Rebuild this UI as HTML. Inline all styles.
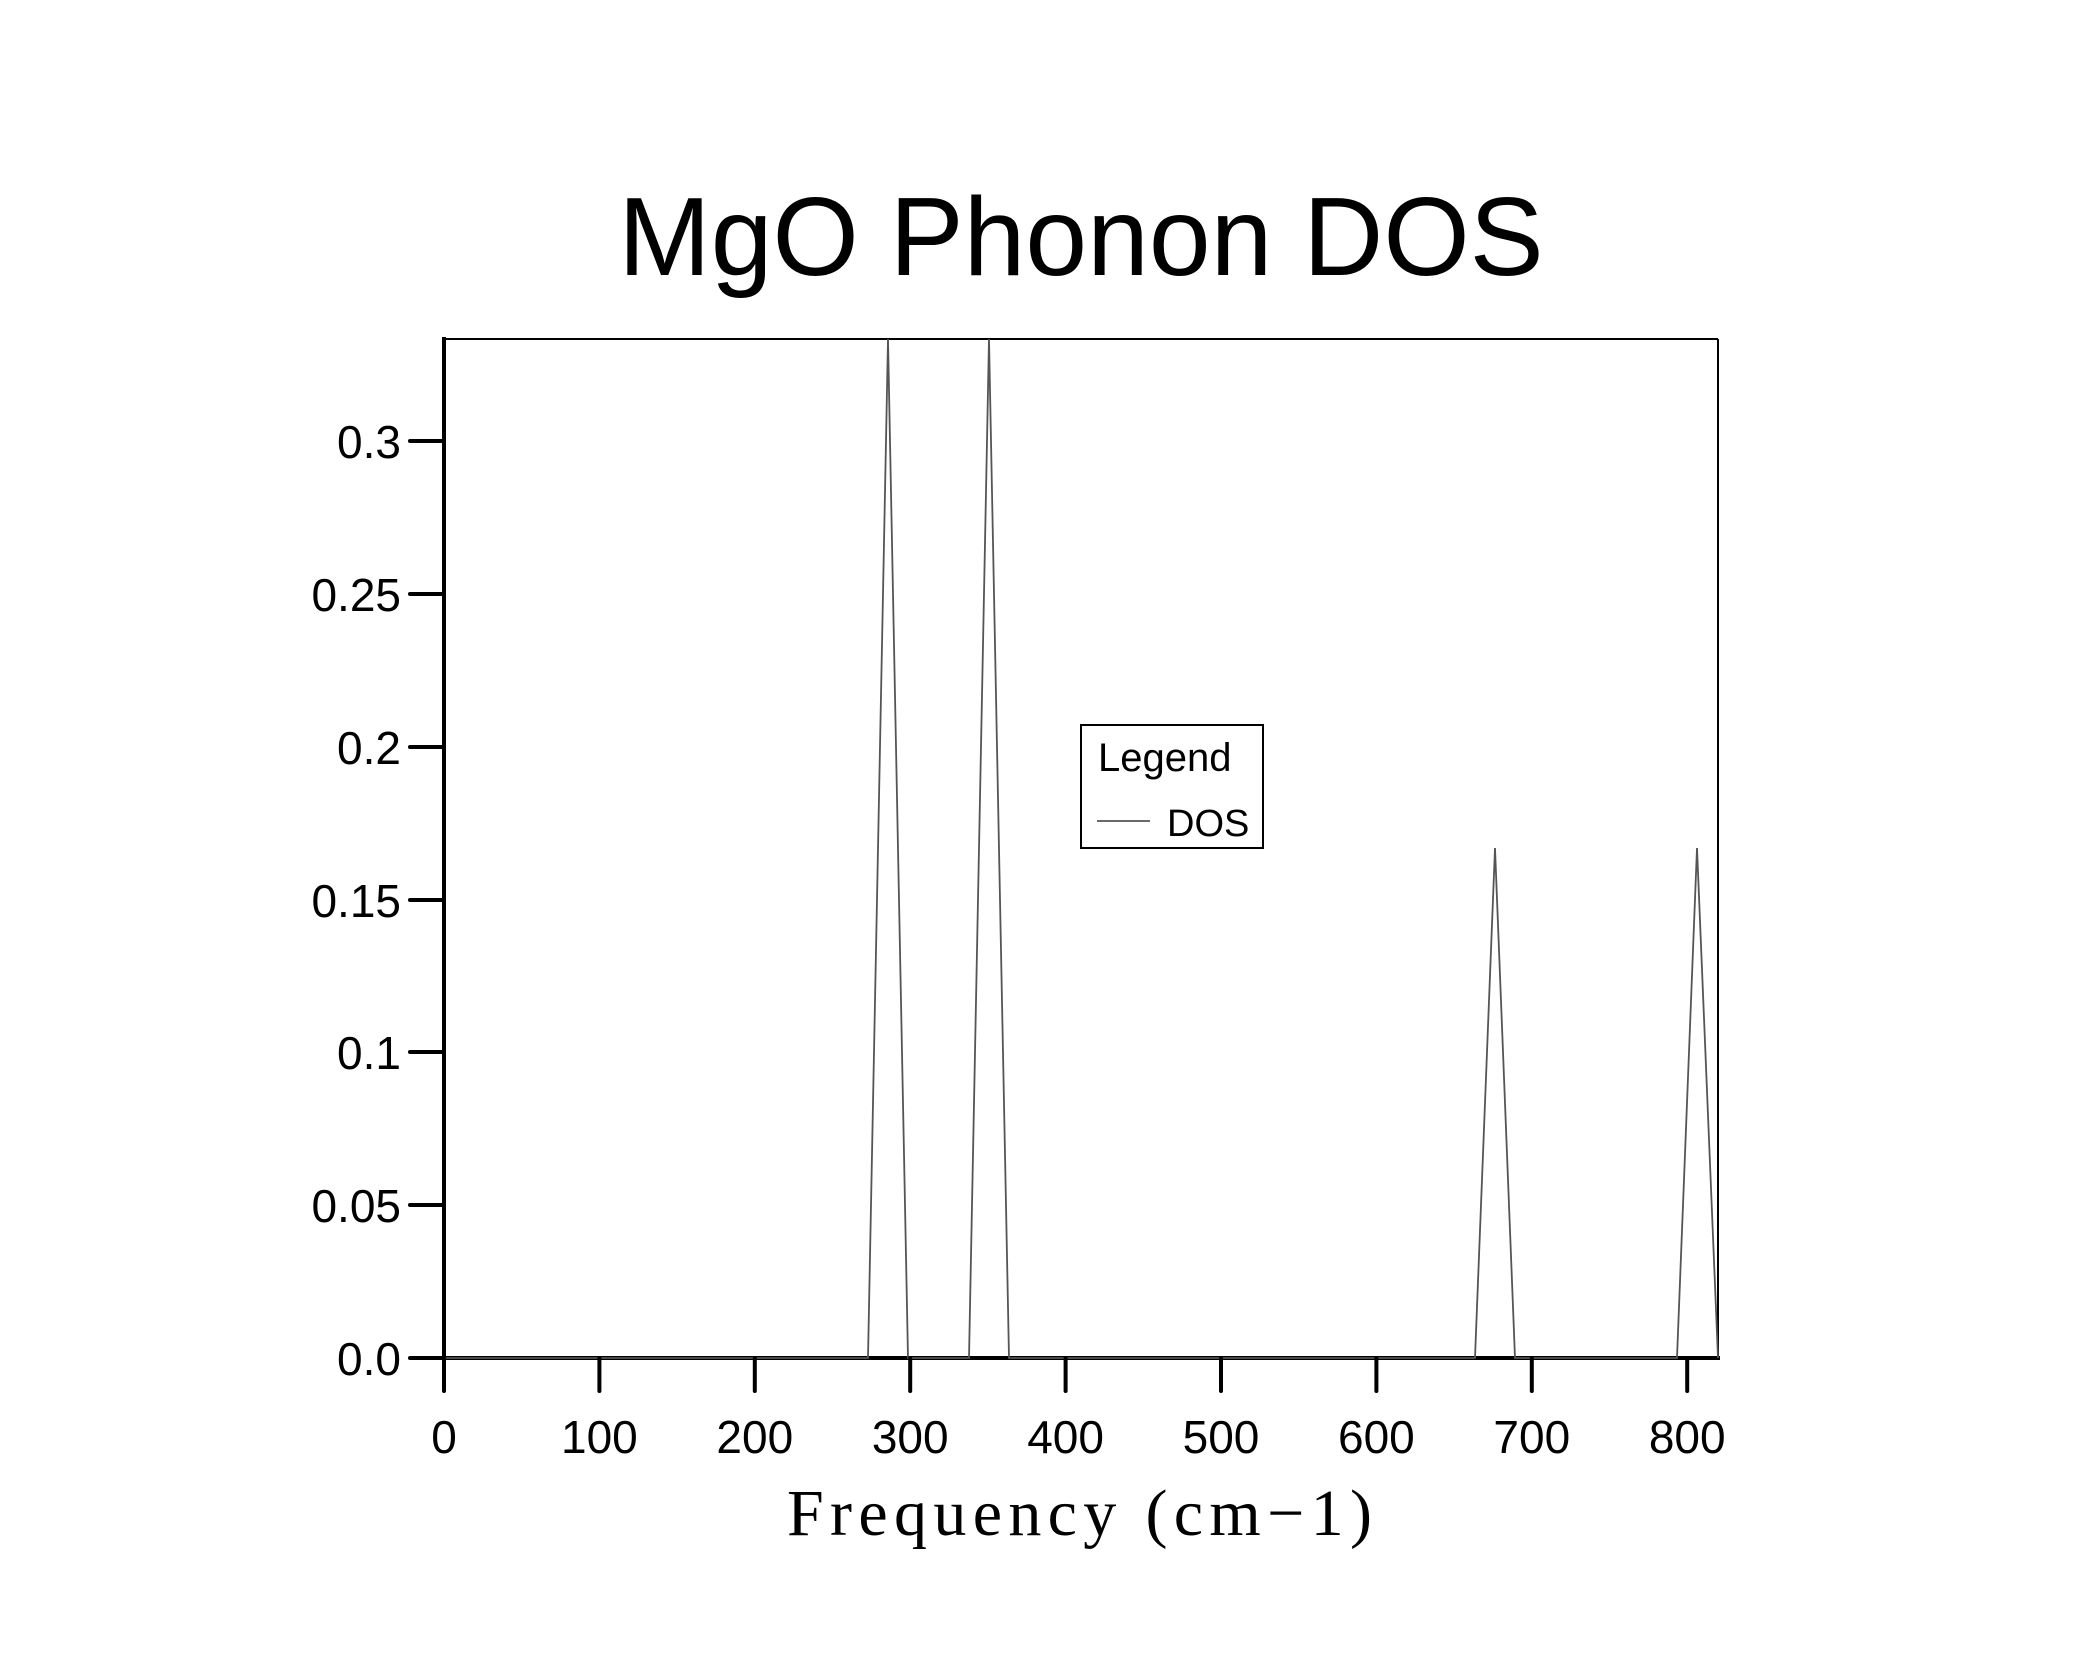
<!DOCTYPE html>
<html><head><meta charset="utf-8"><style>
html,body{margin:0;padding:0;background:#fff;}
svg{display:block;}
</style></head><body>
<svg width="2088" height="1653" viewBox="0 0 2088 1653" xmlns="http://www.w3.org/2000/svg">
<rect width="2088" height="1653" fill="#fff"/>
<text x="1081" y="275" font-family="Liberation Sans, sans-serif" font-size="111" text-anchor="middle" fill="#000">MgO Phonon DOS</text>
<line x1="444" y1="339" x2="1718" y2="339" stroke="#000" stroke-width="2"/>
<line x1="1718" y1="339" x2="1718" y2="1358" stroke="#000" stroke-width="2"/>
<line x1="444" y1="337" x2="444" y2="1360" stroke="#000" stroke-width="4"/>
<line x1="442" y1="1358" x2="1720" y2="1358" stroke="#000" stroke-width="4"/>
<polyline fill="none" stroke="#555" stroke-width="1.8" points="444,1358 868,1358 888,339 908,1358 969,1358 989,339 1009,1358 1475,1358 1495,848 1515,1358 1677,1358 1697,848 1718,1358"/>
<g stroke="#000" stroke-width="4" stroke-linecap="round">
<line x1="410" y1="1358" x2="444" y2="1358"/>
<line x1="410" y1="1205" x2="444" y2="1205"/>
<line x1="410" y1="1052" x2="444" y2="1052"/>
<line x1="410" y1="900" x2="444" y2="900"/>
<line x1="410" y1="747" x2="444" y2="747"/>
<line x1="410" y1="594" x2="444" y2="594"/>
<line x1="410" y1="441" x2="444" y2="441"/>
<line x1="444" y1="1358" x2="444" y2="1391"/>
<line x1="599.4" y1="1358" x2="599.4" y2="1391"/>
<line x1="754.8" y1="1358" x2="754.8" y2="1391"/>
<line x1="910.2" y1="1358" x2="910.2" y2="1391"/>
<line x1="1065.6" y1="1358" x2="1065.6" y2="1391"/>
<line x1="1221" y1="1358" x2="1221" y2="1391"/>
<line x1="1376.4" y1="1358" x2="1376.4" y2="1391"/>
<line x1="1531.8" y1="1358" x2="1531.8" y2="1391"/>
<line x1="1687.2" y1="1358" x2="1687.2" y2="1391"/>
</g>
<g font-family="Liberation Sans, sans-serif" font-size="46" fill="#000" text-anchor="end">
<text x="401" y="1375">0.0</text>
<text x="401" y="1222">0.05</text>
<text x="401" y="1069">0.1</text>
<text x="401" y="917">0.15</text>
<text x="401" y="764">0.2</text>
<text x="401" y="611">0.25</text>
<text x="401" y="458">0.3</text>
</g>
<g font-family="Liberation Sans, sans-serif" font-size="46" fill="#000" text-anchor="middle">
<text x="444" y="1453">0</text>
<text x="599.4" y="1453">100</text>
<text x="754.8" y="1453">200</text>
<text x="910.2" y="1453">300</text>
<text x="1065.6" y="1453">400</text>
<text x="1221" y="1453">500</text>
<text x="1376.4" y="1453">600</text>
<text x="1531.8" y="1453">700</text>
<text x="1687.2" y="1453">800</text>
</g>
<text x="787" y="1535" font-family="Liberation Serif, serif" font-size="66" fill="#000" textLength="585" lengthAdjust="spacing">Frequency (cm−1)</text>
<rect x="1081" y="725" width="182" height="123" fill="#fff" stroke="#000" stroke-width="2"/>
<text x="1098" y="771" font-family="Liberation Sans, sans-serif" font-size="40" fill="#000">Legend</text>
<line x1="1097" y1="821" x2="1150" y2="821" stroke="#555" stroke-width="1.8"/>
<text x="1167" y="836" font-family="Liberation Sans, sans-serif" font-size="38" fill="#000">DOS</text>
</svg>
</body></html>
